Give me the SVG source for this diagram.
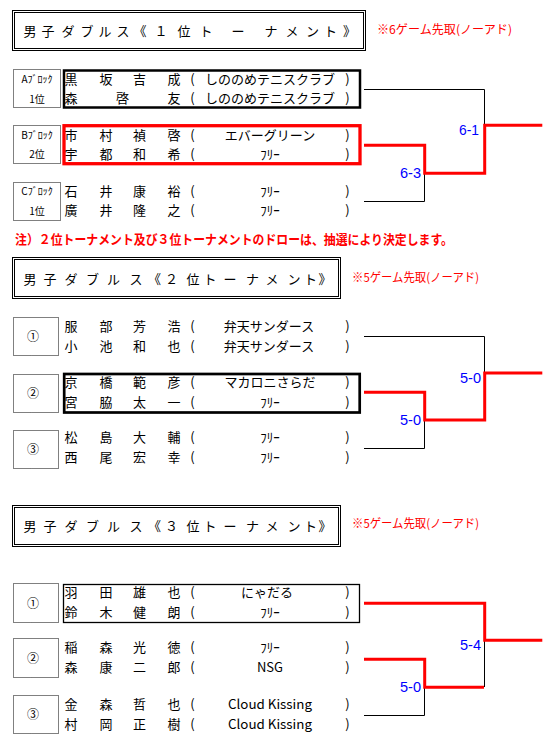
<svg xmlns="http://www.w3.org/2000/svg" width="560" height="741" viewBox="0 0 560 741">
<style>
text{font-family:'Noto Sans CJK JP','Noto Sans CJK SC',sans-serif;fill:#000}
.t{font-size:13px;text-anchor:middle}
.n{font-size:13px;text-anchor:middle}
.note{font-size:12px;fill:#f00}
.warn{font-size:13px;font-weight:bold;fill:#f00}
.lbl{font-size:10px;text-anchor:middle}
.circ{font-size:12px;text-anchor:middle}
.score{font-family:'Liberation Sans',sans-serif;font-size:15px;fill:#00f;text-anchor:end}
.dot{fill:none;stroke:#000;stroke-width:1;stroke-dasharray:1 1}
.frame{fill:none;stroke:#000;stroke-width:1}
.bk{fill:none;stroke:#000;stroke-width:1}
.rd{fill:none;stroke:#f00;stroke-width:3}
</style>
<rect width="560" height="741" fill="#fff"/>

<g id="title1">
<rect class="frame" x="12.5" y="10.5" width="353" height="40"/>
<rect class="frame" x="14.5" y="12.5" width="349" height="36"/>
<text class="t" x="30 48 68 87 105 123 140 161 184 206 238 271 292 312.5 330.5 349.5" y="36">男子ダブルス《１位トーナメント》</text>
<text class="note" x="377" y="34" textLength="135" lengthAdjust="spacingAndGlyphs">※6ゲーム先取(ノーアド)</text>
</g>

<g id="s1-a">
<rect class="dot" x="13.5" y="69.5" width="47" height="38"/>
<text class="lbl" x="37" y="83">Aﾌﾞﾛｯｸ</text>
<text class="lbl" x="37" y="103">1位</text>
<rect x="64" y="70.5" width="296" height="37" fill="none" stroke="#000" stroke-width="2.5"/>
<text class="n" x="71 106 139.5 174 192.5" y="84">黒坂吉成(</text>
<text class="n" x="270" y="84">しののめテニスクラブ</text>
<text class="n" x="347.5" y="84">)</text>
<text class="n" x="71 122.5 174 192.5" y="103">森啓友(</text>
<text class="n" x="270" y="103">しののめテニスクラブ</text>
<text class="n" x="347.5" y="103">)</text>
</g>

<g id="s1-b">
<rect class="dot" x="13.5" y="125.5" width="47" height="38"/>
<text class="lbl" x="37" y="138.5">Bﾌﾞﾛｯｸ</text>
<text class="lbl" x="37" y="158">2位</text>
<rect x="64" y="125.7" width="296" height="38" fill="none" stroke="#f00" stroke-width="3.3"/>
<text class="n" x="71 106 139.5 174 192.5" y="140">市村禎啓(</text>
<text class="n" x="270" y="140">エバーグリーン</text>
<text class="n" x="347.5" y="140">)</text>
<text class="n" x="71 106 139.5 174 192.5" y="159">宇都和希(</text>
<text class="n" x="270" y="159">ﾌﾘｰ</text>
<text class="n" x="347.5" y="159">)</text>
</g>

<g id="s1-c">
<rect class="dot" x="13.5" y="182.5" width="47" height="38"/>
<text class="lbl" x="37" y="195">Cﾌﾞﾛｯｸ</text>
<text class="lbl" x="37" y="215">1位</text>
<text class="n" x="71 106 139.5 174 192.5" y="196">石井康裕(</text>
<text class="n" x="270" y="196">ﾌﾘｰ</text>
<text class="n" x="347.5" y="196">)</text>
<text class="n" x="71 106 139.5 174 192.5" y="215">廣井隆之(</text>
<text class="n" x="270" y="215">ﾌﾘｰ</text>
<text class="n" x="347.5" y="215">)</text>
</g>

<g id="notice">
<text class="warn" x="15" y="244" textLength="438" lengthAdjust="spacingAndGlyphs">注）２位トーナメント及び３位トーナメントのドローは、抽選により決定します。</text>
</g>

<g id="title2">
<rect class="frame" x="12.5" y="257.5" width="328" height="41"/>
<rect class="frame" x="14.5" y="259.5" width="324" height="37"/>
<text class="t" x="30 50 71 92.5 113.5 136 154.5 171.5 193 210 230 252.5 272 294 310.5 325" y="284">男子ダブルス《２位トーナメント》</text>
<text class="note" x="352" y="282" textLength="127" lengthAdjust="spacingAndGlyphs">※5ゲーム先取(ノーアド)</text>
</g>

<g id="s2-1">
<rect class="dot" x="13.5" y="317.5" width="45" height="38"/>
<text class="circ" x="33" y="341">①</text>
<text class="n" x="71 106 139.5 174 192.5" y="331">服部芳浩(</text>
<text class="n" x="269" y="331">弁天サンダース</text>
<text class="n" x="347.5" y="331">)</text>
<text class="n" x="71 106 139.5 174 192.5" y="351">小池和也(</text>
<text class="n" x="269" y="351">弁天サンダース</text>
<text class="n" x="347.5" y="351">)</text>
</g>

<g id="s2-2">
<rect class="dot" x="13.5" y="374.5" width="45" height="38"/>
<text class="circ" x="33" y="398">②</text>
<rect x="64.2" y="374" width="295.5" height="38.5" fill="none" stroke="#000" stroke-width="2.7"/>
<text class="n" x="71 106 139.5 174 192.5" y="387">京橋範彦(</text>
<text class="n" x="270" y="387">マカロニさらだ</text>
<text class="n" x="347.5" y="387">)</text>
<text class="n" x="71 106 139.5 174 192.5" y="407">宮脇太一(</text>
<text class="n" x="270" y="407">ﾌﾘｰ</text>
<text class="n" x="347.5" y="407">)</text>
</g>

<g id="s2-3">
<rect class="dot" x="13.5" y="430.5" width="45" height="38"/>
<text class="circ" x="33" y="454">③</text>
<text class="n" x="71 106 139.5 174 192.5" y="442">松島大輔(</text>
<text class="n" x="270" y="442">ﾌﾘｰ</text>
<text class="n" x="347.5" y="442">)</text>
<text class="n" x="71 106 139.5 174 192.5" y="462">西尾宏幸(</text>
<text class="n" x="270" y="462">ﾌﾘｰ</text>
<text class="n" x="347.5" y="462">)</text>
</g>

<g id="title3">
<rect class="frame" x="12.5" y="505.5" width="328" height="41"/>
<rect class="frame" x="14.5" y="507.5" width="324" height="37"/>
<text class="t" x="30 50 71 92.5 113.5 136 154.5 171.5 193 210 230 252.5 272 294 310.5 325" y="531">男子ダブルス《３位トーナメント》</text>
<text class="note" x="352" y="528" textLength="127" lengthAdjust="spacingAndGlyphs">※5ゲーム先取(ノーアド)</text>
</g>

<g id="s3-1">
<rect class="dot" x="13.5" y="583.5" width="45" height="39"/>
<text class="circ" x="33" y="607.5">①</text>
<rect x="63.5" y="584.5" width="296" height="38" fill="none" stroke="#000" stroke-width="1.3"/>
<text class="n" x="71 106 139.5 174 192.5" y="597">羽田雄也(</text>
<text class="n" x="267" y="597">にゃだる</text>
<text class="n" x="347.5" y="597">)</text>
<text class="n" x="71 106 139.5 174 192.5" y="617">鈴木健朗(</text>
<text class="n" x="270" y="617">ﾌﾘｰ</text>
<text class="n" x="347.5" y="617">)</text>
</g>

<g id="s3-2">
<rect class="dot" x="13.5" y="638.5" width="45" height="39"/>
<text class="circ" x="33" y="662.5">②</text>
<text class="n" x="71 106 139.5 174 192.5" y="652">稲森光徳(</text>
<text class="n" x="270" y="652">ﾌﾘｰ</text>
<text class="n" x="347.5" y="652">)</text>
<text class="n" x="71 106 139.5 174 192.5" y="672">森康二郎(</text>
<text class="n" x="270" y="672">NSG</text>
<text class="n" x="347.5" y="672">)</text>
</g>

<g id="s3-3">
<rect class="dot" x="13.5" y="695.5" width="45" height="38"/>
<text class="circ" x="33" y="719">③</text>
<text class="n" x="71 106 139.5 174 192.5" y="709">金森哲也(</text>
<text class="n" x="270" y="709" textLength="84" lengthAdjust="spacingAndGlyphs">Cloud Kissing</text>
<text class="n" x="347.5" y="709">)</text>
<text class="n" x="71 106 139.5 174 192.5" y="729">村岡正樹(</text>
<text class="n" x="270" y="729" textLength="84" lengthAdjust="spacingAndGlyphs">Cloud Kissing</text>
<text class="n" x="347.5" y="729">)</text>
</g>

<g id="connectors">
<path class="bk" d="M364,89.5 H484.5 V125"/>
<path class="bk" d="M364,201.5 H424.5 V173"/>
<path class="rd" d="M364,145.3 H424.7 V173.3 H484.7 V125.3 H542.3"/>
<text class="score" x="479" y="135" textLength="20" lengthAdjust="spacingAndGlyphs">6-1</text>
<text class="score" x="421" y="178" textLength="21" lengthAdjust="spacingAndGlyphs">6-3</text>

<path class="bk" d="M364,336.5 H484.5 V373"/>
<path class="bk" d="M364,448.5 H424.5 V420"/>
<path class="rd" d="M364,392.2 H424.7 V420 H484.7 V373 H542.3"/>
<text class="score" x="481" y="383" textLength="21" lengthAdjust="spacingAndGlyphs">5-0</text>
<text class="score" x="421" y="425" textLength="21" lengthAdjust="spacingAndGlyphs">5-0</text>

<path class="bk" d="M484.5,640 V687"/>
<path class="bk" d="M364,715.5 H424.5 V687"/>
<path class="rd" d="M364,603.3 H484.7 V640.3 H542.3"/>
<path class="rd" d="M364,659.3 H424.7 V687.3 H484"/>
<text class="score" x="481" y="650" textLength="21" lengthAdjust="spacingAndGlyphs">5-4</text>
<text class="score" x="421" y="692" textLength="21" lengthAdjust="spacingAndGlyphs">5-0</text>
</g>
</svg>
